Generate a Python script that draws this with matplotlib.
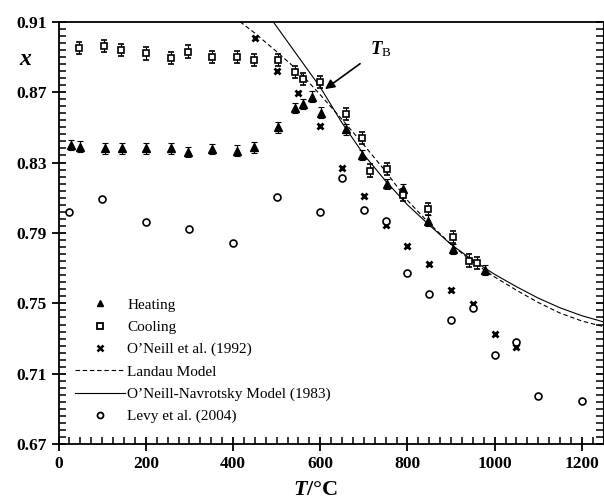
import matplotlib
matplotlib.use("Agg")
import matplotlib.pyplot as plt
from matplotlib.lines import Line2D
from matplotlib.ticker import FixedLocator, MultipleLocator

plt.rcParams['font.family'] = ['Liberation Serif', 'DejaVu Serif']
plt.rcParams['mathtext.fontset'] = 'custom'
plt.rcParams['mathtext.it'] = 'Liberation Serif:style=italic:weight=bold'
plt.rcParams['mathtext.rm'] = 'Liberation Serif'
plt.rcParams['mathtext.bf'] = 'Liberation Serif:weight=bold'

# heating runs
heat_T = [28, 48, 106, 145, 200, 258, 297, 352, 410, 448, 504, 542, 561, 580,
          601, 658, 695, 753, 790, 847, 905, 979]
heat_x = [0.840, 0.839, 0.838, 0.838, 0.838, 0.838, 0.836, 0.8377, 0.8367, 0.8387,
          0.850, 0.861, 0.8633, 0.8674, 0.8583, 0.8489, 0.8343, 0.8177, 0.8148,
          0.797, 0.781, 0.769]
heat_err = 0.003

# cooling runs
cool_T = [47, 105, 143, 200, 258, 296, 352, 410, 448, 504, 542, 561, 600, 658,
          695, 714, 753, 790, 847, 905, 941, 960]
cool_x = [0.8949, 0.8962, 0.894, 0.892, 0.8892, 0.893, 0.890, 0.890, 0.8883, 0.8883,
          0.8813, 0.8773, 0.8756, 0.8574, 0.8438, 0.8254, 0.8264, 0.8116, 0.8035,
          0.7876, 0.7743, 0.7728]
cool_err = 0.0035

# O'Neill et al. (1992)
oneill_T = [450, 500, 550, 600, 650, 700, 750, 800, 850, 900, 950, 1000, 1050]
oneill_x = [0.9006, 0.8822, 0.8693, 0.8506, 0.8267, 0.811, 0.7945, 0.7824, 0.7724,
            0.7576, 0.7497, 0.7327, 0.7254]

# Levy et al. (2004)
levy_T = [25, 100, 200, 300, 400, 500, 600, 650, 700, 750, 800, 850, 900, 950,
          1000, 1050, 1100, 1200]
levy_x = [0.8018, 0.8092, 0.7961, 0.7923, 0.7842, 0.8103, 0.802, 0.8211, 0.8031,
          0.797, 0.7675, 0.7554, 0.7406, 0.7473, 0.7207, 0.7278, 0.6976, 0.6948]

# model curves
landau_T = [416, 450, 500, 550, 600, 650, 700, 750, 800, 850, 900, 950, 1000,
            1050, 1100, 1150, 1200, 1250]
landau_x = [0.910, 0.9035, 0.893, 0.882, 0.8685, 0.8545, 0.840, 0.825, 0.8085,
            0.7955, 0.7835, 0.7735, 0.765, 0.7575, 0.7505, 0.7445, 0.740, 0.7368]

onn_T = [492, 550, 600, 650, 700, 750, 800, 850, 900, 950, 1000, 1050, 1100,
         1150, 1200, 1250]
onn_x = [0.910, 0.890, 0.8728, 0.8525, 0.8345, 0.8195, 0.806, 0.7945, 0.7835,
         0.7745, 0.7665, 0.7595, 0.753, 0.7475, 0.743, 0.7395]

y_ticks = [0.67, 0.71, 0.75, 0.79, 0.83, 0.87, 0.91]
y_tick_labels = ['0.67', '0.71', '0.75', '0.79', '0.83', '0.87', '0.91']
y_minor = [0.67 + 0.004 * i for i in range(61)]

fig = plt.figure(figsize=(6.04, 5.04), dpi=100)
ax = fig.add_axes([0.097, 0.1185, 0.901, 0.8385])

ax.plot(landau_T, landau_x, ls=(0, (4, 2.5)), color='black', lw=0.8, zorder=2)
ax.plot(onn_T, onn_x, ls='-', color='black', lw=0.8, zorder=2)

ax.errorbar(heat_T, heat_x, yerr=heat_err, fmt='^', color='black', ms=5.5,
            capsize=2.3, elinewidth=0.8, capthick=0.8, zorder=4)
ax.errorbar(cool_T, cool_x, yerr=cool_err, fmt='s', mfc='white', mec='black',
            ecolor='black', ms=5, mew=1.2, capsize=2.3, elinewidth=0.8,
            capthick=0.8, zorder=4)
ax.plot(oneill_T, oneill_x, 'x', color='black', ms=4.5, mew=2, zorder=4)
ax.plot(levy_T, levy_x, 'o', mfc='white', mec='black', ms=5, mew=1.2, zorder=4)

ax.set_xlim(0, 1248)
ax.set_ylim(0.67, 0.91)
ax.xaxis.set_major_locator(MultipleLocator(200))
ax.xaxis.set_minor_locator(MultipleLocator(25))
ax.yaxis.set_major_locator(FixedLocator(y_ticks))
ax.yaxis.set_minor_locator(FixedLocator(y_minor))
ax.set_yticklabels(y_tick_labels)
ax.tick_params(which='major', direction='inout', length=10, width=1.3,
               labelsize=12.5, right=True)
ax.tick_params(which='minor', direction='in', length=5, width=1.1, right=True)
ax.tick_params(axis='y', which='both', labelright=False)
for lab in ax.get_xticklabels() + ax.get_yticklabels():
    lab.set_fontweight('bold')
for side in ax.spines.values():
    side.set_linewidth(1.3)
ax.spines['right'].set_linewidth(0.8)

fig.text(0.043, 0.881, r'$x$', fontsize=17, ha='center', va='center')
fig.text(0.522, 0.027, r'$T$/°C', fontsize=16, fontweight='bold',
         ha='center', va='center')

ax.annotate(r'$T_{\rm B}$', xy=(611, 0.8717), xytext=(738, 0.8945),
            fontsize=13.5, ha='center', va='center',
            arrowprops=dict(arrowstyle='-|>', color='black', lw=1.2,
                            mutation_scale=14, shrinkA=6, shrinkB=0))

# legend keys drawn smaller than the data markers
handles = [
    Line2D([], [], ls='none', marker='^', color='black', ms=5),
    Line2D([], [], ls='none', marker='s', mfc='white', mec='black', ms=4.3, mew=1.3),
    Line2D([], [], ls='none', marker='x', color='black', ms=4, mew=1.8),
    Line2D([], [], ls=(0, (4, 2.5)), color='black', lw=0.8),
    Line2D([], [], ls='-', color='black', lw=0.8),
    Line2D([], [], ls='none', marker='o', mfc='white', mec='black', ms=4.3, mew=1.3),
]
labels = ['Heating', 'Cooling', "O\u2019Neill et al. (1992)", 'Landau Model',
          "O\u2019Neill-Navrotsky Model (1983)", 'Levy et al. (2004)']
fig.legend(handles, labels, loc='upper left', bbox_to_anchor=(75 / 604, 1 - 298 / 504),
           bbox_transform=fig.transFigure, frameon=False, fontsize=11,
           handlelength=3.3, handletextpad=0.12, labelspacing=0.56,
           borderpad=0, borderaxespad=0)

fig.savefig('out.png', dpi=100)
